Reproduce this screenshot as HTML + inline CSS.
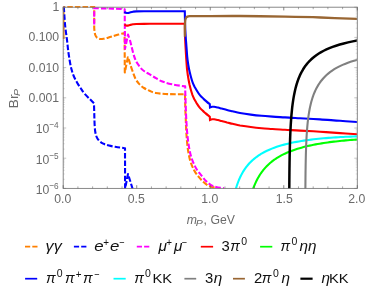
<!DOCTYPE html>
<html><head><meta charset="utf-8"><title>Br_P plot</title>
<style>
html,body{margin:0;padding:0;background:#fff;}
body{width:374px;height:295px;overflow:hidden;}
svg{display:block;will-change:transform;}
</style></head><body>
<svg width="374" height="295" viewBox="0 0 374 295" font-family="Liberation Sans, sans-serif">
<defs><clipPath id="c"><rect x="62.80" y="6.10" width="294.10" height="182.60"/></clipPath></defs>
<rect width="374" height="295" fill="#fff"/>
<g clip-path="url(#c)" fill="none" stroke-width="2.1" stroke-linejoin="round">
<path d="M63.5,39.0 L63.5,6.6" stroke="#FF8000"/>
<path d="M63.5,6.7 L94.2,6.7 L94.2,27.0 L94.2,27.0 C94.2,27.7 94.3,29.7 94.5,31.0 C94.7,32.3 94.9,33.9 95.3,35.0 C95.7,36.1 96.1,36.9 97.0,37.6 C97.9,38.3 99.4,38.8 100.6,39.0 C101.8,39.2 102.8,38.9 104.0,38.7 C105.2,38.5 106.7,38.1 108.0,37.7 C109.3,37.3 110.3,37.0 112.1,36.5 C113.8,36.0 116.4,35.2 118.5,34.6 C120.6,34.0 123.6,33.2 124.6,32.9 L124.6,32.9 L124.8,72.5 L124.8,72.5 L127.9,57.2 L127.9,57.2 C128.1,57.6 128.4,58.4 128.8,59.5 C129.2,60.6 129.5,62.1 130.1,64.0 C130.7,65.9 131.6,68.5 132.5,71.0 C133.4,73.5 134.4,76.6 135.5,78.8 C136.6,81.0 137.9,82.6 139.3,84.1 C140.7,85.6 142.3,86.9 144.0,88.0 C145.7,89.1 147.6,90.0 149.5,90.8 C151.4,91.6 152.6,92.5 155.7,93.0 C158.8,93.5 162.9,93.9 167.8,94.1 C172.7,94.3 182.1,94.2 185.0,94.2 L185.0,94.2 C185.0,96.0 185.1,100.7 185.2,105.0 C185.3,109.3 185.6,115.0 185.8,120.0 C186.0,125.0 186.1,130.0 186.5,135.0 C186.9,140.0 187.3,145.6 188.0,150.0 C188.7,154.4 189.4,158.1 190.4,161.4 C191.4,164.7 192.7,167.4 194.0,170.0 C195.3,172.6 196.9,174.7 198.5,176.7 C200.1,178.7 201.8,180.5 203.5,182.0 C205.2,183.5 206.8,184.9 208.7,185.8 C210.6,186.7 213.8,187.3 214.8,187.6" stroke="#FF8000" stroke-dasharray="5.5 2.1" stroke-dashoffset="3.8"/>
<path d="M63.8,6.8 C64.0,9.8 64.6,19.5 65.1,25.0 C65.6,30.5 66.5,35.8 67.0,40.0 C67.5,44.2 67.7,46.7 68.1,50.0 C68.5,53.3 69.1,56.9 69.6,60.0 C70.1,63.1 70.6,65.9 71.3,68.5 C72.0,71.1 72.5,73.2 73.5,75.5 C74.5,77.8 75.8,80.4 77.0,82.5 C78.2,84.6 79.4,86.2 80.6,88.0 C81.8,89.8 82.5,91.2 84.0,93.0 C85.5,94.8 87.6,96.9 89.3,98.6 C91.0,100.3 93.2,102.6 94.0,103.4 L94.0,103.4 C94.0,105.3 94.2,111.2 94.3,115.0 C94.4,118.8 94.5,123.2 94.7,126.0 C94.9,128.8 95.0,130.2 95.3,132.0 C95.6,133.8 96.0,135.4 96.6,136.8 C97.2,138.2 98.0,139.4 98.8,140.4 C99.6,141.4 100.4,142.0 101.3,142.6 C102.2,143.2 103.0,143.6 104.3,144.1 C105.6,144.6 107.2,145.1 109.0,145.6 C110.8,146.1 113.3,146.5 115.1,146.8 C116.9,147.1 118.3,147.3 120.0,147.5 C121.7,147.7 124.2,148.1 125.0,148.2 L125.0,148.4 L125.1,188.6 L128.0,174.0 L132.6,188.8" stroke="#0000FF" stroke-dasharray="5.5 2.1"/>
<path d="M94.2,24.4 L94.2,8.3 L94.2,8.3 C96.0,8.3 101.5,8.3 105.0,8.4 C108.5,8.5 111.7,8.6 115.0,8.7 C118.3,8.8 123.1,9.1 124.7,9.2 L124.7,9.2 L125.0,48.8 L128.0,34.6 L128.0,34.6 C128.3,35.5 129.0,36.9 129.9,40.0 C130.8,43.1 132.3,50.0 133.3,53.5 C134.3,57.0 134.9,58.7 136.0,61.0 C137.1,63.3 138.7,65.4 140.0,67.1 C141.3,68.8 142.5,69.9 144.0,71.0 C145.5,72.1 147.2,72.9 148.9,73.9 C150.6,74.9 151.9,75.8 154.0,77.0 C156.1,78.2 158.7,80.1 161.7,81.3 C164.7,82.5 168.1,83.4 172.0,84.3 C175.9,85.2 183.0,86.1 185.2,86.4 L185.2,86.4 C185.2,88.7 185.3,94.4 185.5,100.0 C185.7,105.6 186.0,114.2 186.3,120.0 C186.6,125.8 186.9,130.0 187.4,135.0 C187.9,140.0 188.7,145.8 189.5,150.0 C190.3,154.2 191.2,157.2 192.4,160.4 C193.6,163.6 195.0,166.4 196.5,169.0 C198.0,171.6 200.0,173.7 201.6,175.7 C203.2,177.7 204.5,179.5 206.0,181.0 C207.5,182.5 209.0,183.8 210.7,184.8 C212.4,185.8 213.8,186.4 216.0,187.0 C218.2,187.6 222.7,188.0 224.0,188.2" stroke="#FF00FF" stroke-dasharray="5.5 2.1"/>
<path d="M0,0" stroke="#FF00FF" stroke-dasharray="5.5 2.1"/>
<path d="M124.3,24.5 C124.6,24.6 125.4,25.2 126.0,25.4 C126.6,25.6 127.2,25.7 127.9,25.6 C128.6,25.5 129.2,25.2 130.0,25.0 C130.8,24.8 131.9,24.5 133.0,24.3 C134.1,24.1 133.5,24.1 136.3,24.0 C139.1,23.9 141.9,23.9 150.0,23.8 C158.1,23.8 179.0,23.7 184.8,23.7 L184.8,23.7 C184.9,26.0 184.9,33.2 185.1,37.5 C185.2,41.8 185.5,46.0 185.7,49.5 C185.9,53.0 186.0,55.3 186.2,58.5 C186.5,61.8 186.7,65.9 187.0,69.0 C187.4,72.2 187.7,74.9 188.2,77.5 C188.6,80.1 189.1,82.4 189.5,84.5 C190.0,86.6 190.4,88.2 190.9,90.0 C191.4,91.8 192.0,93.6 192.5,95.1 C193.1,96.6 193.6,97.7 194.2,99.0 C194.9,100.3 195.5,101.3 196.4,102.8 C197.4,104.3 198.8,106.6 199.9,107.9 C201.0,109.3 202.1,110.0 203.0,110.9 C204.0,111.8 204.5,112.4 205.7,113.4 C206.8,114.4 209.1,116.1 209.8,116.7 L209.8,116.7 L210.0,120.0 L210.0,120.0 C210.3,119.9 211.3,119.4 212.0,119.3 C212.7,119.2 213.1,119.2 214.1,119.3 C215.1,119.4 216.7,119.8 218.0,120.1 C219.3,120.4 220.2,120.7 221.7,121.1 C223.2,121.5 225.2,122.0 227.0,122.5 C228.8,122.9 230.3,123.3 232.5,123.8 C234.7,124.3 236.9,124.9 240.0,125.5 C243.1,126.0 247.2,126.6 250.8,127.0 C254.4,127.5 258.1,127.9 261.7,128.2 C265.3,128.6 268.6,128.7 272.5,129.0 C276.4,129.3 280.4,129.5 285.0,129.8 C289.6,130.1 294.2,130.2 300.0,130.6 C305.8,130.9 313.3,131.3 320.0,131.7 C326.7,132.2 333.7,132.7 340.0,133.1 C346.3,133.5 354.8,134.1 357.8,134.3" stroke="#FF0000" stroke-linejoin="miter" stroke-miterlimit="2"/>
<path d="M252.7,189.73 L253.36,188.01 L254.01,186.36 L254.67,184.8 L255.33,183.31 L255.98,181.89 L256.64,180.55 L257.29,179.28 L257.95,178.07 L258.61,176.92 L259.26,175.83 L259.92,174.78 L260.58,173.78 L261.23,172.83 L261.89,171.91 L262.55,171.04 L263.2,170.2 L263.86,169.39 L264.52,168.61 L265.17,167.87 L265.83,167.15 L266.48,166.45 L267.14,165.78 L267.8,165.14 L268.45,164.51 L269.11,163.91 L269.77,163.33 L270.42,162.76 L271.08,162.21 L271.74,161.68 L272.39,161.17 L273.05,160.67 L273.71,160.18 L274.36,159.71 L275.02,159.25 L275.67,158.81 L276.33,158.37 L276.99,157.95 L277.64,157.54 L278.3,157.14 L279.3,156.55 L281.32,155.43 L283.34,154.39 L285.35,153.43 L287.37,152.53 L289.39,151.69 L291.41,150.91 L293.43,150.17 L295.44,149.48 L297.46,148.83 L299.48,148.22 L301.5,147.64 L303.52,147.1 L305.53,146.58 L307.55,146.1 L309.57,145.64 L311.59,145.2 L313.61,144.79 L315.62,144.4 L317.64,144.03 L319.66,143.68 L321.68,143.34 L323.69,143.02 L325.71,142.72 L327.73,142.44 L329.75,142.16 L331.77,141.9 L333.78,141.66 L335.8,141.42 L337.82,141.2 L339.84,140.99 L341.86,140.78 L343.87,140.59 L345.89,140.41 L347.91,140.23 L349.93,140.07 L351.95,139.91 L353.96,139.76 L355.98,139.62 L358.0,139.48" stroke="#00FF00"/>
<path d="M124.3,11.9 C124.6,12.1 125.4,12.6 126.0,12.8 C126.6,13.0 127.2,13.1 127.9,13.0 C128.6,12.9 129.2,12.6 130.0,12.4 C130.8,12.2 131.9,11.9 133.0,11.7 C134.1,11.5 133.5,11.5 136.3,11.4 C139.1,11.3 141.9,11.3 150.0,11.2 C158.1,11.2 179.0,11.2 184.8,11.2 L184.8,11.2 C184.9,13.5 184.9,20.7 185.1,25.0 C185.2,29.3 185.5,33.5 185.7,37.0 C185.9,40.5 186.2,42.8 186.4,46.0 C186.7,49.2 186.9,53.3 187.2,56.5 C187.5,59.7 187.9,62.4 188.3,65.0 C188.7,67.6 189.2,69.9 189.7,72.0 C190.2,74.1 190.6,75.7 191.1,77.5 C191.6,79.3 192.1,81.1 192.7,82.6 C193.2,84.1 193.8,85.2 194.4,86.5 C195.1,87.8 195.7,88.8 196.6,90.3 C197.5,91.8 199.0,94.1 200.1,95.4 C201.2,96.8 202.2,97.5 203.2,98.4 C204.1,99.3 204.7,99.9 205.8,100.9 C206.9,101.9 209.1,103.7 209.8,104.2 L209.8,104.2 L210.0,107.5 L210.0,107.5 C210.3,107.4 211.3,106.9 212.0,106.8 C212.7,106.7 213.1,106.7 214.1,106.8 C215.1,106.9 216.7,107.3 218.0,107.6 C219.3,107.9 220.2,108.2 221.7,108.6 C223.2,109.0 225.2,109.5 227.0,110.0 C228.8,110.5 230.3,110.8 232.5,111.3 C234.7,111.8 236.9,112.5 240.0,113.0 C243.1,113.5 247.2,114.1 250.8,114.6 C254.4,115.1 258.1,115.5 261.7,115.8 C265.3,116.1 268.6,116.3 272.5,116.6 C276.4,116.9 280.4,117.1 285.0,117.4 C289.6,117.7 294.2,117.9 300.0,118.2 C305.8,118.5 313.3,119.0 320.0,119.4 C326.7,119.8 333.7,120.4 340.0,120.8 C346.3,121.2 354.8,121.8 357.8,122.0" stroke="#0000FF" stroke-linejoin="miter" stroke-miterlimit="2"/>
<path d="M235.4,190.36 L236.06,188.09 L236.71,186.0 L237.37,184.06 L238.03,182.26 L238.68,180.59 L239.34,179.02 L239.99,177.56 L240.65,176.18 L241.31,174.88 L241.96,173.66 L242.62,172.5 L243.28,171.4 L243.93,170.35 L244.59,169.36 L245.25,168.41 L245.9,167.51 L246.56,166.65 L247.22,165.82 L247.87,165.03 L248.53,164.27 L249.18,163.54 L249.84,162.83 L250.5,162.16 L251.15,161.51 L251.81,160.88 L252.47,160.27 L253.12,159.69 L253.78,159.12 L254.44,158.58 L255.09,158.05 L255.75,157.54 L256.41,157.04 L257.06,156.56 L257.72,156.1 L258.37,155.65 L259.03,155.21 L259.69,154.78 L260.34,154.37 L261.0,153.96 L262.0,153.37 L264.46,152.02 L266.92,150.79 L269.38,149.67 L271.85,148.64 L274.31,147.7 L276.77,146.84 L279.23,146.04 L281.69,145.3 L284.15,144.62 L286.62,143.99 L289.08,143.4 L291.54,142.85 L294.0,142.34 L296.46,141.87 L298.92,141.42 L301.38,141.01 L303.85,140.62 L306.31,140.26 L308.77,139.92 L311.23,139.6 L313.69,139.3 L316.15,139.03 L318.62,138.77 L321.08,138.52 L323.54,138.29 L326.0,138.08 L328.46,137.88 L330.92,137.69 L333.38,137.52 L335.85,137.35 L338.31,137.2 L340.77,137.06 L343.23,136.93 L345.69,136.8 L348.15,136.69 L350.62,136.58 L353.08,136.49 L355.54,136.4 L358.0,136.31" stroke="#00FFFF"/>
<path d="M305.39,190.00 L305.40,188.25 L305.41,186.49 L305.42,184.74 L305.44,182.98 L305.45,181.23 L305.47,179.48 L305.48,177.72 L305.50,175.97 L305.52,174.22 L305.54,172.47 L305.56,170.71 L305.59,168.96 L305.62,167.21 L305.64,165.46 L305.67,163.71 L305.71,161.96 L305.74,160.21 L305.78,158.46 L305.82,156.71 L305.86,154.97 L305.91,153.22 L305.96,151.47 L306.02,149.73 L306.08,147.98 L306.14,146.24 L306.21,144.50 L306.28,142.75 L306.36,141.01 L306.45,139.27 L306.54,137.54 L306.64,135.80 L306.74,134.06 L306.86,132.33 L306.98,130.60 L307.12,128.87 L307.26,127.14 L307.42,125.41 L307.58,123.69 L307.76,121.97 L307.96,120.25 L308.16,118.54 L308.39,116.82 L308.63,115.11 L308.89,113.41 L309.17,111.71 L309.47,110.01 L309.80,108.32 L310.15,106.63 L310.52,104.95 L310.93,103.27 L311.37,101.60 L311.84,99.94 L312.35,98.28 L312.89,96.63 L313.48,94.99 L314.11,93.36 L314.80,91.74 L315.53,90.13 L316.32,88.53 L317.17,86.94 L318.09,85.36 L319.08,83.80 L320.14,82.25 L321.29,80.72 L322.53,79.21 L323.86,77.71 L325.29,76.24 L326.83,74.78 L328.49,73.35 L330.28,71.95 L332.21,70.57 L334.28,69.22 L336.52,67.90 L338.93,66.61 L341.52,65.36 L344.31,64.15 L347.32,62.98 L350.56,61.86 L354.04,60.78 L357.80,59.75" stroke="#808080"/>
<path d="M184.9,36.8 C184.9,35.3 184.9,30.5 184.9,28.0 C185.0,25.5 185.0,23.4 185.1,22.0 C185.2,20.6 185.3,20.0 185.5,19.3 C185.7,18.6 185.9,18.0 186.2,17.6 C186.5,17.2 186.8,16.9 187.4,16.6 C188.0,16.4 188.6,16.3 189.5,16.2 C190.4,16.1 191.2,16.1 193.0,16.1 C194.8,16.1 192.2,16.1 200.0,16.1 C207.8,16.1 225.8,15.9 240.0,16.0 C254.2,16.1 271.6,16.4 285.0,16.7 C298.4,16.9 308.6,17.1 320.7,17.5 C332.8,17.9 351.6,18.8 357.8,19.0" stroke="#996633" stroke-width="2.3"/>
<path d="M289.29,190.00 L289.30,187.87 L289.32,185.74 L289.33,183.61 L289.35,181.49 L289.36,179.36 L289.38,177.23 L289.40,175.10 L289.42,172.98 L289.44,170.85 L289.47,168.73 L289.49,166.61 L289.52,164.48 L289.55,162.36 L289.59,160.24 L289.62,158.12 L289.66,156.00 L289.70,153.89 L289.75,151.77 L289.79,149.66 L289.85,147.55 L289.90,145.44 L289.96,143.33 L290.03,141.22 L290.10,139.12 L290.18,137.01 L290.26,134.91 L290.35,132.82 L290.44,130.72 L290.55,128.63 L290.66,126.55 L290.78,124.46 L290.91,122.38 L291.05,120.31 L291.20,118.24 L291.36,116.17 L291.54,114.11 L291.73,112.05 L291.93,110.01 L292.15,107.96 L292.39,105.93 L292.65,103.90 L292.93,101.88 L293.23,99.87 L293.55,97.87 L293.90,95.88 L294.28,93.90 L294.69,91.93 L295.13,89.97 L295.60,88.03 L296.12,86.10 L296.67,84.18 L297.26,82.28 L297.91,80.40 L298.60,78.53 L299.35,76.68 L300.16,74.86 L301.03,73.05 L301.98,71.27 L302.99,69.51 L304.09,67.78 L305.27,66.07 L306.55,64.39 L307.93,62.74 L309.42,61.12 L311.03,59.53 L312.76,57.97 L314.63,56.45 L316.65,54.97 L318.83,53.52 L321.18,52.11 L323.72,50.75 L326.46,49.42 L329.41,48.14 L332.60,46.89 L336.04,45.70 L339.76,44.55 L343.77,43.44 L348.09,42.39 L352.76,41.38 L357.80,40.41" stroke="#000000" stroke-width="2.5"/>
</g>
<g stroke="#7c7c7c" stroke-width="0.9" fill="none">
<rect x="63.2" y="7.2" width="294.10" height="181.20"/>
<path d="M63.20,188.4 v-3.2 M63.20,7.2 v3.2" stroke="#606060" stroke-width="0.75"/>
<path d="M77.91,188.4 v-2.0 M77.91,7.2 v2.0" stroke="#606060" stroke-width="0.55"/>
<path d="M92.61,188.4 v-2.0 M92.61,7.2 v2.0" stroke="#606060" stroke-width="0.55"/>
<path d="M107.31,188.4 v-2.0 M107.31,7.2 v2.0" stroke="#606060" stroke-width="0.55"/>
<path d="M122.02,188.4 v-2.0 M122.02,7.2 v2.0" stroke="#606060" stroke-width="0.55"/>
<path d="M136.73,188.4 v-3.2 M136.73,7.2 v3.2" stroke="#606060" stroke-width="0.75"/>
<path d="M151.43,188.4 v-2.0 M151.43,7.2 v2.0" stroke="#606060" stroke-width="0.55"/>
<path d="M166.14,188.4 v-2.0 M166.14,7.2 v2.0" stroke="#606060" stroke-width="0.55"/>
<path d="M180.84,188.4 v-2.0 M180.84,7.2 v2.0" stroke="#606060" stroke-width="0.55"/>
<path d="M195.55,188.4 v-2.0 M195.55,7.2 v2.0" stroke="#606060" stroke-width="0.55"/>
<path d="M210.25,188.4 v-3.2 M210.25,7.2 v3.2" stroke="#606060" stroke-width="0.75"/>
<path d="M224.96,188.4 v-2.0 M224.96,7.2 v2.0" stroke="#606060" stroke-width="0.55"/>
<path d="M239.66,188.4 v-2.0 M239.66,7.2 v2.0" stroke="#606060" stroke-width="0.55"/>
<path d="M254.37,188.4 v-2.0 M254.37,7.2 v2.0" stroke="#606060" stroke-width="0.55"/>
<path d="M269.07,188.4 v-2.0 M269.07,7.2 v2.0" stroke="#606060" stroke-width="0.55"/>
<path d="M283.77,188.4 v-3.2 M283.77,7.2 v3.2" stroke="#606060" stroke-width="0.75"/>
<path d="M298.48,188.4 v-2.0 M298.48,7.2 v2.0" stroke="#606060" stroke-width="0.55"/>
<path d="M313.19,188.4 v-2.0 M313.19,7.2 v2.0" stroke="#606060" stroke-width="0.55"/>
<path d="M327.89,188.4 v-2.0 M327.89,7.2 v2.0" stroke="#606060" stroke-width="0.55"/>
<path d="M342.60,188.4 v-2.0 M342.60,7.2 v2.0" stroke="#606060" stroke-width="0.55"/>
<path d="M357.30,188.4 v-3.2 M357.30,7.2 v3.2" stroke="#606060" stroke-width="0.75"/>
<path d="M63.2,7.20 h3.0 M357.3,7.20 h-3.0" stroke="#6a6a6a" stroke-width="0.4"/>
<path d="M63.2,28.31 h1.6 M357.3,28.31 h-1.6" stroke="#6a6a6a" stroke-width="0.22"/>
<path d="M63.2,22.99 h1.6 M357.3,22.99 h-1.6" stroke="#6a6a6a" stroke-width="0.22"/>
<path d="M63.2,19.22 h1.6 M357.3,19.22 h-1.6" stroke="#6a6a6a" stroke-width="0.22"/>
<path d="M63.2,16.29 h1.6 M357.3,16.29 h-1.6" stroke="#6a6a6a" stroke-width="0.22"/>
<path d="M63.2,13.90 h1.6 M357.3,13.90 h-1.6" stroke="#6a6a6a" stroke-width="0.22"/>
<path d="M63.2,11.88 h1.6 M357.3,11.88 h-1.6" stroke="#6a6a6a" stroke-width="0.22"/>
<path d="M63.2,10.13 h1.6 M357.3,10.13 h-1.6" stroke="#6a6a6a" stroke-width="0.22"/>
<path d="M63.2,8.58 h1.6 M357.3,8.58 h-1.6" stroke="#6a6a6a" stroke-width="0.22"/>
<path d="M63.2,37.40 h3.0 M357.3,37.40 h-3.0" stroke="#6a6a6a" stroke-width="0.4"/>
<path d="M63.2,58.51 h1.6 M357.3,58.51 h-1.6" stroke="#6a6a6a" stroke-width="0.22"/>
<path d="M63.2,53.19 h1.6 M357.3,53.19 h-1.6" stroke="#6a6a6a" stroke-width="0.22"/>
<path d="M63.2,49.42 h1.6 M357.3,49.42 h-1.6" stroke="#6a6a6a" stroke-width="0.22"/>
<path d="M63.2,46.49 h1.6 M357.3,46.49 h-1.6" stroke="#6a6a6a" stroke-width="0.22"/>
<path d="M63.2,44.10 h1.6 M357.3,44.10 h-1.6" stroke="#6a6a6a" stroke-width="0.22"/>
<path d="M63.2,42.08 h1.6 M357.3,42.08 h-1.6" stroke="#6a6a6a" stroke-width="0.22"/>
<path d="M63.2,40.33 h1.6 M357.3,40.33 h-1.6" stroke="#6a6a6a" stroke-width="0.22"/>
<path d="M63.2,38.78 h1.6 M357.3,38.78 h-1.6" stroke="#6a6a6a" stroke-width="0.22"/>
<path d="M63.2,67.60 h3.0 M357.3,67.60 h-3.0" stroke="#6a6a6a" stroke-width="0.4"/>
<path d="M63.2,88.71 h1.6 M357.3,88.71 h-1.6" stroke="#6a6a6a" stroke-width="0.22"/>
<path d="M63.2,83.39 h1.6 M357.3,83.39 h-1.6" stroke="#6a6a6a" stroke-width="0.22"/>
<path d="M63.2,79.62 h1.6 M357.3,79.62 h-1.6" stroke="#6a6a6a" stroke-width="0.22"/>
<path d="M63.2,76.69 h1.6 M357.3,76.69 h-1.6" stroke="#6a6a6a" stroke-width="0.22"/>
<path d="M63.2,74.30 h1.6 M357.3,74.30 h-1.6" stroke="#6a6a6a" stroke-width="0.22"/>
<path d="M63.2,72.28 h1.6 M357.3,72.28 h-1.6" stroke="#6a6a6a" stroke-width="0.22"/>
<path d="M63.2,70.53 h1.6 M357.3,70.53 h-1.6" stroke="#6a6a6a" stroke-width="0.22"/>
<path d="M63.2,68.98 h1.6 M357.3,68.98 h-1.6" stroke="#6a6a6a" stroke-width="0.22"/>
<path d="M63.2,97.80 h3.0 M357.3,97.80 h-3.0" stroke="#6a6a6a" stroke-width="0.4"/>
<path d="M63.2,118.91 h1.6 M357.3,118.91 h-1.6" stroke="#6a6a6a" stroke-width="0.22"/>
<path d="M63.2,113.59 h1.6 M357.3,113.59 h-1.6" stroke="#6a6a6a" stroke-width="0.22"/>
<path d="M63.2,109.82 h1.6 M357.3,109.82 h-1.6" stroke="#6a6a6a" stroke-width="0.22"/>
<path d="M63.2,106.89 h1.6 M357.3,106.89 h-1.6" stroke="#6a6a6a" stroke-width="0.22"/>
<path d="M63.2,104.50 h1.6 M357.3,104.50 h-1.6" stroke="#6a6a6a" stroke-width="0.22"/>
<path d="M63.2,102.48 h1.6 M357.3,102.48 h-1.6" stroke="#6a6a6a" stroke-width="0.22"/>
<path d="M63.2,100.73 h1.6 M357.3,100.73 h-1.6" stroke="#6a6a6a" stroke-width="0.22"/>
<path d="M63.2,99.18 h1.6 M357.3,99.18 h-1.6" stroke="#6a6a6a" stroke-width="0.22"/>
<path d="M63.2,128.00 h3.0 M357.3,128.00 h-3.0" stroke="#6a6a6a" stroke-width="0.4"/>
<path d="M63.2,149.11 h1.6 M357.3,149.11 h-1.6" stroke="#6a6a6a" stroke-width="0.22"/>
<path d="M63.2,143.79 h1.6 M357.3,143.79 h-1.6" stroke="#6a6a6a" stroke-width="0.22"/>
<path d="M63.2,140.02 h1.6 M357.3,140.02 h-1.6" stroke="#6a6a6a" stroke-width="0.22"/>
<path d="M63.2,137.09 h1.6 M357.3,137.09 h-1.6" stroke="#6a6a6a" stroke-width="0.22"/>
<path d="M63.2,134.70 h1.6 M357.3,134.70 h-1.6" stroke="#6a6a6a" stroke-width="0.22"/>
<path d="M63.2,132.68 h1.6 M357.3,132.68 h-1.6" stroke="#6a6a6a" stroke-width="0.22"/>
<path d="M63.2,130.93 h1.6 M357.3,130.93 h-1.6" stroke="#6a6a6a" stroke-width="0.22"/>
<path d="M63.2,129.38 h1.6 M357.3,129.38 h-1.6" stroke="#6a6a6a" stroke-width="0.22"/>
<path d="M63.2,158.20 h3.0 M357.3,158.20 h-3.0" stroke="#6a6a6a" stroke-width="0.4"/>
<path d="M63.2,179.31 h1.6 M357.3,179.31 h-1.6" stroke="#6a6a6a" stroke-width="0.22"/>
<path d="M63.2,173.99 h1.6 M357.3,173.99 h-1.6" stroke="#6a6a6a" stroke-width="0.22"/>
<path d="M63.2,170.22 h1.6 M357.3,170.22 h-1.6" stroke="#6a6a6a" stroke-width="0.22"/>
<path d="M63.2,167.29 h1.6 M357.3,167.29 h-1.6" stroke="#6a6a6a" stroke-width="0.22"/>
<path d="M63.2,164.90 h1.6 M357.3,164.90 h-1.6" stroke="#6a6a6a" stroke-width="0.22"/>
<path d="M63.2,162.88 h1.6 M357.3,162.88 h-1.6" stroke="#6a6a6a" stroke-width="0.22"/>
<path d="M63.2,161.13 h1.6 M357.3,161.13 h-1.6" stroke="#6a6a6a" stroke-width="0.22"/>
<path d="M63.2,159.58 h1.6 M357.3,159.58 h-1.6" stroke="#6a6a6a" stroke-width="0.22"/>
<path d="M63.2,188.40 h3.0 M357.3,188.40 h-3.0" stroke="#6a6a6a" stroke-width="0.4"/>
</g>
<g fill="none" stroke-width="1.7">
<path d="M25.0,246.7 H37.5" stroke="#FF8000" stroke-dasharray="5.2 2.1"/>
<path d="M73.9,246.7 H86.4" stroke="#0000FF" stroke-dasharray="5.2 2.1"/>
<path d="M136.8,246.7 H149.3" stroke="#FF00FF" stroke-dasharray="5.2 2.1"/>
<path d="M200.8,246.7 H213.1" stroke="#FF0000"/>
<path d="M260.1,246.7 H272.3" stroke="#00FF00"/>
<path d="M25.1,278.7 H37.2" stroke="#0000FF"/>
<path d="M113.5,278.7 H125.7" stroke="#00FFFF"/>
<path d="M184.4,278.7 H196.2" stroke="#808080"/>
<path d="M233.0,278.7 H244.9" stroke="#996633"/>
<path d="M300.4,278.7 H312.6" stroke="#000000" stroke-width="2.2"/>
</g>
<text transform="translate(52.40,11.00) scale(1.020,1)" font-size="12" fill="#6a6a6a">1</text>
<text transform="translate(28.50,41.40) scale(1.020,1)" font-size="12" fill="#6a6a6a">0.100</text>
<text transform="translate(28.50,71.50) scale(1.020,1)" font-size="12" fill="#6a6a6a">0.010</text>
<text transform="translate(28.50,101.70) scale(1.020,1)" font-size="12" fill="#6a6a6a">0.001</text>
<text transform="translate(35.65,132.90) scale(1.020,1)" font-size="12" fill="#6a6a6a">10</text>
<text transform="translate(49.20,128.30) scale(0.870,1)" font-size="9.5" fill="#6a6a6a">−4</text>
<text transform="translate(35.65,163.90) scale(1.020,1)" font-size="12" fill="#6a6a6a">10</text>
<text transform="translate(49.20,159.30) scale(0.870,1)" font-size="9.5" fill="#6a6a6a">−5</text>
<text transform="translate(35.65,193.50) scale(1.020,1)" font-size="12" fill="#6a6a6a">10</text>
<text transform="translate(49.20,188.90) scale(0.870,1)" font-size="9.5" fill="#6a6a6a">−6</text>
<text transform="translate(62.70,203.10) scale(1.020,1)" font-size="12" text-anchor="middle" fill="#6a6a6a">0.0</text>
<text transform="translate(136.20,203.10) scale(1.020,1)" font-size="12" text-anchor="middle" fill="#6a6a6a">0.5</text>
<text transform="translate(209.75,203.10) scale(1.020,1)" font-size="12" text-anchor="middle" fill="#6a6a6a">1.0</text>
<text transform="translate(284.20,203.10) scale(1.020,1)" font-size="12" text-anchor="middle" fill="#6a6a6a">1.5</text>
<text transform="translate(356.80,203.10) scale(1.020,1)" font-size="12" text-anchor="middle" fill="#6a6a6a">2.0</text>
<text transform="translate(186.70,224.30) scale(1.020,1)" font-size="12" font-style="italic" fill="#6a6a6a">m</text>
<text transform="translate(195.70,225.80) scale(1.200,1)" font-size="8.8" font-style="italic" fill="#6a6a6a">P</text>
<text transform="translate(203.60,224.30) scale(1.020,1)" font-size="12" fill="#6a6a6a">, GeV</text>
<g transform="translate(18.0,108.4) rotate(-90)"><text font-size="12" fill="#6a6a6a" transform="scale(1.17,1)">Br</text><text x="10.3" y="2.4" font-size="8.8" font-style="italic" fill="#6a6a6a" transform="scale(1.2,1)">P</text></g>
<text transform="translate(45.58,250.80) scale(1.120,1)" font-size="14.4" font-style="italic" fill="#111">γγ</text>
<text transform="translate(94.18,250.80) scale(1.180,1)" font-size="14.3" font-style="italic" fill="#111">e</text>
<text transform="translate(103.19,246.20) scale(0.950,1)" font-size="10.4" fill="#111">+</text>
<text transform="translate(109.96,250.80) scale(1.180,1)" font-size="14.3" font-style="italic" fill="#111">e</text>
<text transform="translate(118.96,245.80) scale(0.880,1)" font-size="10.4" fill="#111">−</text>
<text transform="translate(158.42,250.80) scale(1.080,1)" font-size="14.2" font-style="italic" fill="#111">μ</text>
<text transform="translate(166.32,246.20) scale(0.950,1)" font-size="10.4" fill="#111">+</text>
<text transform="translate(173.99,250.80) scale(1.080,1)" font-size="14.2" font-style="italic" fill="#111">μ</text>
<text transform="translate(181.61,245.80) scale(0.880,1)" font-size="10.4" fill="#111">−</text>
<text transform="translate(221.41,250.80) scale(1.070,1)" font-size="13.9" fill="#111">3</text>
<text transform="translate(230.37,250.80)" font-size="14.4" font-style="italic" fill="#111">π</text>
<text transform="translate(241.13,245.30)" font-size="10.5" fill="#111">0</text>
<text transform="translate(280.59,250.80)" font-size="14.4" font-style="italic" fill="#111">π</text>
<text transform="translate(291.56,245.30)" font-size="10.5" fill="#111">0</text>
<text transform="translate(299.53,250.80) scale(0.990,1)" font-size="15.5" font-style="italic" fill="#111">ηη</text>
<text transform="translate(45.94,282.80)" font-size="14.4" font-style="italic" fill="#111">π</text>
<text transform="translate(56.66,277.30)" font-size="10.5" fill="#111">0</text>
<text transform="translate(65.07,282.80)" font-size="14.4" font-style="italic" fill="#111">π</text>
<text transform="translate(75.75,278.20) scale(0.950,1)" font-size="10.4" fill="#111">+</text>
<text transform="translate(82.89,282.80)" font-size="14.4" font-style="italic" fill="#111">π</text>
<text transform="translate(94.06,277.80) scale(0.880,1)" font-size="10.4" fill="#111">−</text>
<text transform="translate(134.30,282.80)" font-size="14.4" font-style="italic" fill="#111">π</text>
<text transform="translate(145.04,277.30)" font-size="10.5" fill="#111">0</text>
<text transform="translate(152.49,282.80) scale(1.085,1)" font-size="13.6" fill="#111">KK</text>
<text transform="translate(204.99,282.80) scale(1.070,1)" font-size="13.9" fill="#111">3</text>
<text transform="translate(213.68,282.80) scale(0.990,1)" font-size="15.5" font-style="italic" fill="#111">η</text>
<text transform="translate(253.90,282.80) scale(1.070,1)" font-size="13.9" fill="#111">2</text>
<text transform="translate(261.63,282.80)" font-size="14.4" font-style="italic" fill="#111">π</text>
<text transform="translate(272.93,277.30)" font-size="10.5" fill="#111">0</text>
<text transform="translate(281.38,282.80) scale(0.990,1)" font-size="15.5" font-style="italic" fill="#111">η</text>
<text transform="translate(321.44,282.80) scale(0.990,1)" font-size="15.5" font-style="italic" fill="#111">η</text>
<text transform="translate(328.95,282.80) scale(1.085,1)" font-size="13.6" fill="#111">KK</text>
</svg>
</body></html>
